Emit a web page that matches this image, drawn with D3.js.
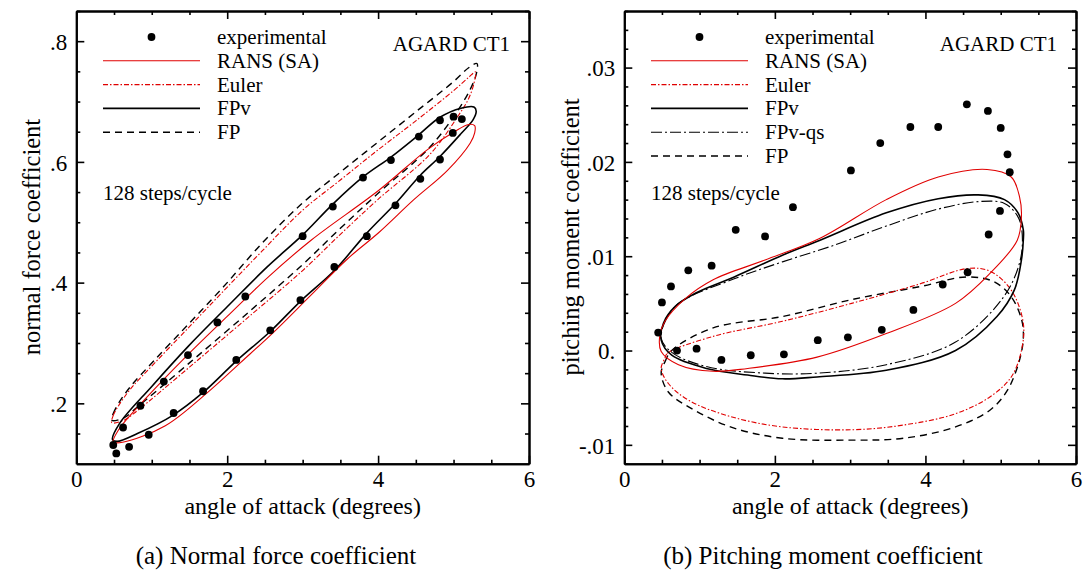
<!DOCTYPE html>
<html><head><meta charset="utf-8">
<script src="https://cdn.jsdelivr.net/npm/d3@7/dist/d3.min.js"></script>
<style>
body{margin:0;background:#fff;}
svg{display:block;}
text{font-family:"Liberation Serif","Times New Roman",serif;fill:#000;}
</style></head><body>
<svg id="fig" width="1084" height="570"></svg>
<script>
// ---- axis ticks ----
const aoaMajor = [0, 2, 4, 6];
const aoaMinor = [0.5, 1, 1.5, 2.5, 3, 3.5, 4.5, 5, 5.5];
const cnMajor = [0.2, 0.4, 0.6, 0.8];
const cnMajorLabels = [".2", ".4", ".6", ".8"];
const cnMinor = [0.15, 0.25, 0.3, 0.35, 0.45, 0.5, 0.55, 0.65, 0.7, 0.75, 0.85];
const cmMajor = [-0.01, 0, 0.01, 0.02, 0.03];
const cmMajorLabels = ["-.01", "0.", ".01", ".02", ".03"];
const cmMinor = [-0.012, -0.008, -0.006, -0.004, -0.002, 0.002, 0.004, 0.006, 0.008,
  0.012, 0.014, 0.016, 0.018, 0.022, 0.024, 0.026, 0.028, 0.032, 0.034, 0.036];

// ---- experimental data: normal force ----
const expCnAlpha = [0.49, 0.53, 0.62, 0.70, 0.85, 0.96, 1.16, 1.29, 1.48, 1.68, 1.87, 2.12, 2.24, 2.57,
  2.97, 3.42, 3.85, 3.0, 3.40, 3.80, 4.23, 4.17, 4.56, 4.54, 4.82, 4.82, 4.99, 5.0, 5.11];
const expCn = [0.131, 0.117, 0.160, 0.128, 0.196, 0.148, 0.236, 0.184, 0.280, 0.220, 0.334, 0.272, 0.377, 0.321,
  0.371, 0.426, 0.477, 0.477, 0.526, 0.574, 0.528, 0.603, 0.572, 0.642, 0.604, 0.669, 0.648, 0.675, 0.671];

// ---- experimental data: pitching moment ----
const expCmAlpha = [0.45, 0.50, 0.62, 0.85, 1.16, 1.48, 1.87, 2.24, 3.01, 3.40, 3.80, 4.17, 4.55, 4.83, 5.0, 5.09, 5.12,
  4.99, 4.84, 4.56, 4.23, 3.84, 3.42, 2.97, 2.57, 2.12, 1.68, 1.29, 0.96, 0.70];
const expCm = [0.0019, 0.0051, 0.0068, 0.0085, 0.0090, 0.0128, 0.0121, 0.0152, 0.0191, 0.0220, 0.0237, 0.0237, 0.0261, 0.0254, 0.0236, 0.0208, 0.0189,
  0.0148, 0.0123, 0.0083, 0.0070, 0.0043, 0.0022, 0.0014, 0.0011, -0.0004, -0.0005, -0.0010, 0.0002, 0.0000];

// ---- computed hysteresis loops, normal force [alpha, Cn] ----
const cnRANS = [[0.49,0.136],[0.56,0.156],[0.905,0.206],[1.45,0.277],[2.0,0.344],[2.55,0.41],[3.12,0.471],
  [4.01,0.553],[4.65,0.62],[5.01,0.65],[5.2,0.662],[5.28,0.660],[5.28,0.648],[5.22,0.631],[4.92,0.586],
  [4.47,0.537],[4.01,0.483],[3.6,0.44],[3.10,0.378],[2.6,0.316],[2.18,0.268],[1.73,0.217],[1.18,0.163],[0.63,0.136]];
const cnEuler = [[0.47,0.168],[0.49,0.18],[0.56,0.196],[0.72,0.224],[1.04,0.267],[1.5,0.327],[1.95,0.386],[2.46,0.452],
  [3.0,0.52],[3.5,0.57],[4.0,0.62],[4.5,0.668],[5.0,0.718],[5.2,0.74],[5.29,0.749],[5.27,0.73],[5.2,0.705],
  [5.06,0.676],[4.69,0.613],[4.0,0.538],[3.5,0.48],[3.0,0.42],[2.32,0.347],[1.5,0.26],[0.81,0.188],[0.63,0.172]];
const cnFPv = [[0.48,0.140],[0.57,0.166],[1.0,0.228],[1.48,0.294],[2.0,0.360],[2.53,0.426],[3.0,0.479],[3.4,0.53],
  [3.8,0.575],[4.17,0.608],[4.54,0.645],[4.82,0.674],[5.1,0.689],[5.27,0.691],[5.30,0.684],[5.26,0.670],[5.1,0.647],
  [4.82,0.609],[4.56,0.578],[4.23,0.531],[3.85,0.482],[3.42,0.42],[2.97,0.369],[2.57,0.319],[2.12,0.270],
  [1.68,0.218],[1.29,0.181],[0.81,0.150],[0.54,0.137]];
const cnFP = [[0.47,0.172],[0.49,0.183],[0.56,0.2],[0.72,0.228],[1.04,0.272],[1.5,0.333],[1.95,0.393],[2.46,0.465],
  [3.0,0.532],[3.5,0.583],[4.0,0.633],[4.5,0.683],[5.0,0.733],[5.2,0.756],[5.31,0.763],[5.3,0.745],[5.22,0.72],
  [5.06,0.686],[4.69,0.625],[4.0,0.548],[3.5,0.49],[3.0,0.43],[2.32,0.355],[1.5,0.267],[0.81,0.194],[0.63,0.176]];

// ---- computed hysteresis loops, pitching moment [alpha, Cm] ----
const cmRANS = [[0.47,0.0015],[0.54,0.0031],[0.81,0.0055],[1.18,0.0075],[1.87,0.0096],[2.6,0.0119],[3.48,0.0160],
  [4.17,0.0184],[4.82,0.0192],[5.14,0.0184],[5.25,0.0163],[5.275,0.0142],[5.22,0.0117],[4.86,0.0082],[4.40,0.0050],
  [3.48,0.0018],[2.56,-0.0007],[1.64,-0.0019],[1.18,-0.0022],[0.72,-0.0015],[0.49,-0.0001]];
const cmEuler = [[0.54,-0.0008],[0.57,-0.0003],[1.18,0.0015],[2.10,0.0031],[3.02,0.0050],[3.94,0.0071],[4.56,0.0087],
  [4.86,0.0084],[5.14,0.0064],[5.30,0.0029],[5.275,0.0000],[5.14,-0.0028],[4.86,-0.0049],[4.40,-0.0067],
  [3.71,-0.0079],[3.02,-0.0084],[2.10,-0.0081],[1.41,-0.0070],[0.86,-0.0053],[0.585,-0.0035],[0.49,-0.0019]];
const cmFPv = [[0.49,0.0011],[0.52,0.0029],[0.68,0.0047],[0.95,0.0061],[1.46,0.0078],[2.10,0.0101],[2.6,0.0117],
  [3.48,0.0146],[4.17,0.0161],[4.70,0.0165],[5.05,0.0160],[5.23,0.0146],[5.30,0.0128],[5.30,0.0117],[5.275,0.0096],
  [5.18,0.0064],[4.95,0.0036],[4.40,0.0000],[3.48,-0.0021],[2.56,-0.0028],[2.10,-0.0030],[1.64,-0.0026],
  [1.09,-0.0019],[0.63,-0.0005]];
const cmFPvQS = [[0.49,0.0013],[0.55,0.0032],[0.72,0.0050],[1.46,0.0076],[2.10,0.0094],[2.8,0.0112],[3.48,0.0132],
  [4.17,0.0150],[4.72,0.0158],[5.05,0.0156],[5.22,0.0143],[5.28,0.0128],[5.26,0.0096],[5.04,0.0057],[4.40,0.0009],
  [3.48,-0.0015],[2.56,-0.0024],[1.87,-0.0024],[1.09,-0.0017],[0.63,-0.0002]];
const cmFP = [[0.49,-0.0024],[0.54,-0.0012],[0.63,0.0000],[1.18,0.0024],[2.10,0.0036],[3.02,0.0054],[3.94,0.0068],
  [4.54,0.0078],[4.91,0.0073],[5.14,0.0057],[5.28,0.0032],[5.30,0.0013],[5.25,-0.0010],[5.09,-0.0042],[4.86,-0.0063],
  [4.40,-0.0081],[3.71,-0.0093],[3.02,-0.0095],[2.10,-0.0093],[1.41,-0.0081],[0.86,-0.0060],[0.585,-0.0044]];

// ---- line styles ----
const RED = "#e00000";
const styles = {
  exp:   {label: "experimental"},
  rans:  {label: "RANS (SA)", color: RED, width: 1.1, dash: null},
  euler: {label: "Euler", color: RED, width: 1.1, dash: "5,2,1.5,2"},
  fpv:   {label: "FPv", color: "#000", width: 1.6, dash: null},
  fpvqs: {label: "FPv-qs", color: "#000", width: 1.1, dash: "11,3,2,3"},
  fp:    {label: "FP", color: "#000", width: 1.4, dash: "7,5"}
};

const svg = d3.select("#fig");
const FONT = '"Liberation Serif","Times New Roman",serif';

function drawPanel(opt) {
  const x = d3.scaleLinear().domain([0, 6]).range([opt.left, opt.right]);
  const y = d3.scaleLinear().domain(opt.yDomain).range([463.7, 11]);
  const g = svg.append("g");

  const line = d3.line().x(d => x(d[0])).y(d => y(d[1])).curve(d3.curveCatmullRomClosed.alpha(0.5));
  const loops = g.append("g");
  opt.curves.forEach(c => {
    const s = styles[c.key];
    loops.append("path").attr("d", line(c.data)).attr("fill", "none")
      .attr("stroke", s.color).attr("stroke-width", s.width)
      .attr("stroke-dasharray", s.dash).attr("stroke-linejoin", "round");
  });

  g.append("g").selectAll("circle").data(d3.zip(opt.expX, opt.expY)).join("circle")
    .attr("cx", d => x(d[0])).attr("cy", d => y(d[1])).attr("r", 3.9).attr("fill", "#000");

  // axes with inward ticks on all four sides
  const [y0, y1] = y.range();
  const mk = (axis, tr, vals, size, fmt) => {
    const a = g.append("g").attr("transform", tr)
      .call(axis.tickValues(vals).tickSize(size).tickSizeOuter(0).tickFormat(fmt || (() => "")));
    a.attr("font-family", FONT);
    a.selectAll(".tick line").attr("stroke", "#000").attr("stroke-width", 1.6);
    a.select(".domain").attr("stroke", "#000").attr("stroke-width", 2);
    return a;
  };
  const bx = mk(d3.axisBottom(x), `translate(0,${y0})`, aoaMajor, -8, d => d);
  bx.selectAll("text").attr("font-size", 23).attr("y", 23.5).attr("dy", null);
  mk(d3.axisBottom(x), `translate(0,${y0})`, aoaMinor, -4);
  mk(d3.axisTop(x), `translate(0,${y1})`, aoaMajor, -8);
  mk(d3.axisTop(x), `translate(0,${y1})`, aoaMinor, -4);
  const ly = mk(d3.axisLeft(y), `translate(${opt.left},0)`, opt.yMajor, -8, (d, i) => opt.yLabels[i]);
  ly.selectAll("text").attr("font-size", 23).attr("x", -9).attr("dy", "0.36em");
  mk(d3.axisLeft(y), `translate(${opt.left},0)`, opt.yMinor, -4);
  mk(d3.axisRight(y), `translate(${opt.right},0)`, opt.yMajor, -8);
  mk(d3.axisRight(y), `translate(${opt.right},0)`, opt.yMinor, -4);

  // axis titles
  g.append("text").attr("x", (opt.left + opt.right) / 2).attr("y", 514).attr("text-anchor", "middle")
    .attr("font-size", 24).text("angle of attack (degrees)");
  g.append("text").attr("transform", `translate(${opt.yTitleX},237) rotate(-90)`).attr("text-anchor", "middle")
    .attr("font-size", 24.5).text(opt.yTitle);

  // legend
  const lg = g.append("g");
  opt.legend.forEach((k, i) => {
    const ry = 37 + i * 23.8;
    if (k === "exp") {
      lg.append("circle").attr("cx", opt.legX + 48.5).attr("cy", ry).attr("r", 3.9).attr("fill", "#000");
    } else {
      const s = styles[k];
      lg.append("line").attr("x1", opt.legX).attr("x2", opt.legX + 97).attr("y1", ry).attr("y2", ry)
        .attr("stroke", s.color).attr("stroke-width", s.width).attr("stroke-dasharray", s.dash);
    }
    lg.append("text").attr("x", opt.legX + 114).attr("y", ry + 7).attr("font-size", 21).text(styles[k].label);
  });

  g.append("text").attr("x", opt.right - 19).attr("y", 51).attr("text-anchor", "end")
    .attr("font-size", 21).text("AGARD CT1");
  g.append("text").attr("x", opt.legX).attr("y", 200).attr("font-size", 21).text("128 steps/cycle");

  svg.append("text").attr("x", opt.capX).attr("y", 564).attr("text-anchor", "middle")
    .attr("font-size", 25).text(opt.caption);
}

drawPanel({
  left: 76.3, right: 529, yDomain: [0.1, 0.85],
  yMajor: cnMajor, yLabels: cnMajorLabels, yMinor: cnMinor,
  yTitle: "normal force coefficient", yTitleX: 39.5,
  expX: expCnAlpha, expY: expCn,
  curves: [{key: "fp", data: cnFP}, {key: "euler", data: cnEuler}, {key: "fpv", data: cnFPv}, {key: "rans", data: cnRANS}],
  legend: ["exp", "rans", "euler", "fpv", "fp"], legX: 103,
  caption: "(a) Normal force coefficient", capX: 276
});

drawPanel({
  left: 624.3, right: 1076, yDomain: [-0.012, 0.036],
  yMajor: cmMajor, yLabels: cmMajorLabels, yMinor: cmMinor,
  yTitle: "pitching moment coefficient", yTitleX: 579,
  expX: expCmAlpha, expY: expCm,
  curves: [{key: "fp", data: cmFP}, {key: "euler", data: cmEuler}, {key: "fpvqs", data: cmFPvQS}, {key: "fpv", data: cmFPv}, {key: "rans", data: cmRANS}],
  legend: ["exp", "rans", "euler", "fpv", "fpvqs", "fp"], legX: 651,
  caption: "(b) Pitching moment coefficient", capX: 823
});
</script></body></html>
